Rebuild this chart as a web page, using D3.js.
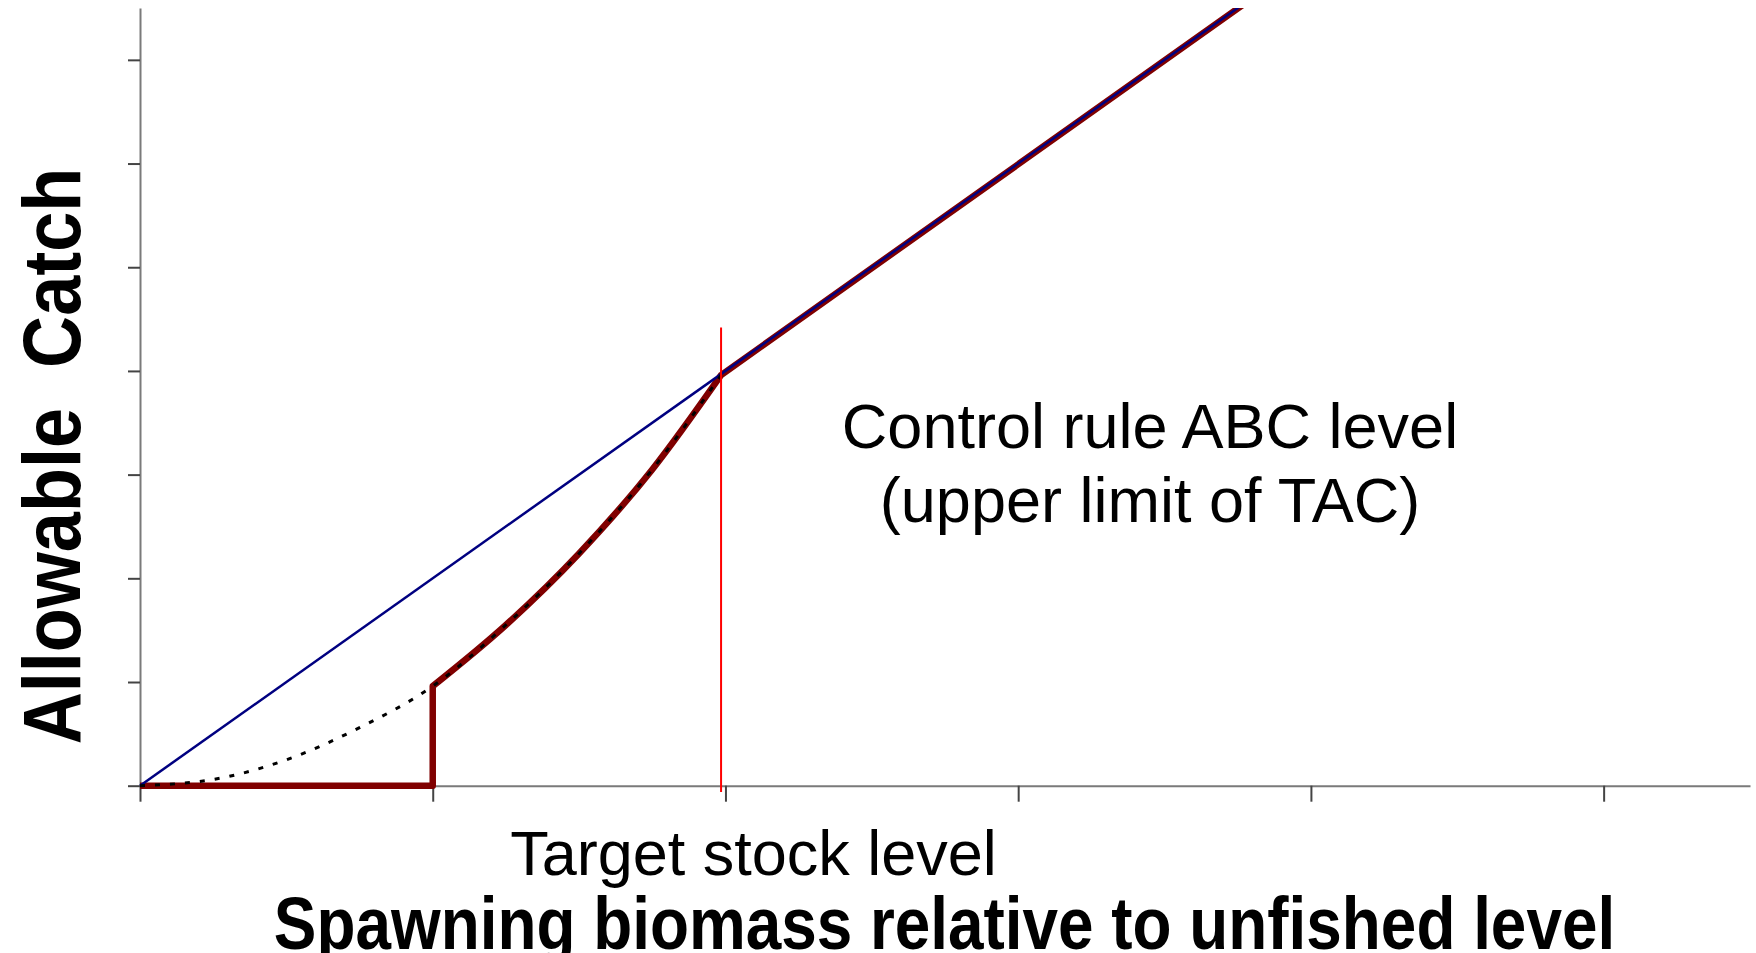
<!DOCTYPE html>
<html>
<head>
<meta charset="utf-8">
<script src="https://cdn.jsdelivr.net/npm/d3@7"></script>
<style>
  html, body { margin: 0; padding: 0; background: #fff; }
  svg { display: block; }
</style>
</head>
<body>
<svg id="chart" width="1756" height="953"></svg>
<script>
// ---- data ----
const xTicks = [0, 0.2, 0.4, 0.6, 0.8, 1.0];
const yTicks = [0, 1, 2, 3, 4, 5, 6, 7];

// straight reference line (blue)
const refX = [0, 1.1];
const refY = [0, 11];

// dotted catch curve below the target level
const curveX = [0, 0.05, 0.1, 0.15, 0.2, 0.25, 0.3, 0.35, 0.397];
const curveY = [0, 0.06, 0.25, 0.56, 0.96, 1.55, 2.24, 3.05, 3.96];

// control rule (dark red): flat at zero, jump at 0.2, curve, then linear
const ruleFlatX = [0, 0.2, 0.2];
const ruleFlatY = [0, 0, 0.96];
const ruleCurveX = [0.2, 0.25, 0.3, 0.35, 0.397];
const ruleCurveY = [0.96, 1.55, 2.24, 3.05, 3.96];
const ruleTopX = [0.397, 1.1];
const ruleTopY = [3.96, 11];

const targetLevel = 0.397;
const targetLineY = [-0.06, 4.42];

// ---- scales ----
const svg = d3.select("#chart");
const x = d3.scaleLinear().domain([0, 1.1]).range([140, 1750]);
const y = d3.scaleLinear().domain([0, 7.5]).range([785.7, 8]);

const zip = (a, b) => a.map((v, i) => [v, b[i]]);

svg.append("defs").append("clipPath").attr("id", "plotclip")
  .append("rect").attr("x", 100).attr("y", 8).attr("width", 1656).attr("height", 800);

// ---- axes ----
const xAxis = svg.append("g").attr("transform", `translate(0,${y(0)})`)
  .call(d3.axisBottom(x).tickValues(xTicks).tickSize(16).tickSizeOuter(0).tickFormat(""));
const yAxis = svg.append("g").attr("transform", `translate(${x(0)},0)`)
  .call(d3.axisLeft(y).tickValues(yTicks).tickSize(12).tickSizeOuter(0).tickFormat(""));
[xAxis, yAxis].forEach(g => {
  g.select(".domain").attr("stroke", "#7a7a7a").attr("stroke-width", 2);
  g.selectAll(".tick line").attr("stroke", "#444").attr("stroke-width", 2);
});

// ---- lines ----
const plot = svg.append("g").attr("clip-path", "url(#plotclip)");
const lin = d3.line().x(d => x(d[0])).y(d => y(d[1]));
const smooth = d3.line().x(d => x(d[0])).y(d => y(d[1])).curve(d3.curveMonotoneX);

const topPart = lin(zip(ruleTopX, ruleTopY));           // "Mx0,y0Lx1,y1"
const rulePath =
  lin(zip(ruleFlatX, ruleFlatY)) +
  smooth(zip(ruleCurveX, ruleCurveY)).replace(/^M/, "L") +
  topPart.slice(topPart.indexOf("L"));

plot.append("path").attr("d", rulePath)
  .attr("fill", "none").attr("stroke", "#800000").attr("stroke-width", 6.5)
  .attr("stroke-linejoin", "round");

plot.append("path").attr("d", lin(zip(refX, refY)))
  .attr("fill", "none").attr("stroke", "#000080").attr("stroke-width", 2.5);

plot.append("path").attr("d", smooth(zip(curveX, curveY)))
  .attr("fill", "none").attr("stroke", "#000").attr("stroke-width", 3)
  .attr("stroke-dasharray", "5,10");

svg.append("line")
  .attr("x1", x(targetLevel)).attr("x2", x(targetLevel))
  .attr("y1", y(targetLineY[0])).attr("y2", y(targetLineY[1]))
  .attr("stroke", "#ff0000").attr("stroke-width", 2);

// ---- text ----
const font = "'Liberation Sans', Arial, Helvetica, sans-serif";
svg.append("text").attr("x", 1150).attr("y", 448)
  .attr("text-anchor", "middle").attr("font-family", font).attr("font-size", 63)
  .text("Control rule ABC level");
svg.append("text").attr("x", 1150).attr("y", 522)
  .attr("text-anchor", "middle").attr("font-family", font).attr("font-size", 63)
  .text("(upper limit of TAC)");
svg.append("text").attr("x", 753.5).attr("y", 875)
  .attr("text-anchor", "middle").attr("font-family", font).attr("font-size", 63)
  .text("Target stock level");

svg.append("text")
  .attr("transform", "translate(944.5,949) scale(0.863,1)")
  .attr("text-anchor", "middle").attr("font-family", font).attr("font-size", 74)
  .attr("font-weight", "bold")
  .text("Spawning biomass relative to unfished level");

svg.append("text")
  .attr("transform", "translate(80,456) rotate(-90) scale(0.879,1)")
  .attr("text-anchor", "middle").attr("font-family", font).attr("font-size", 82)
  .attr("font-weight", "bold")
  .style("white-space", "pre")
  .text("Allowable  Catch");
</script>
</body>
</html>
